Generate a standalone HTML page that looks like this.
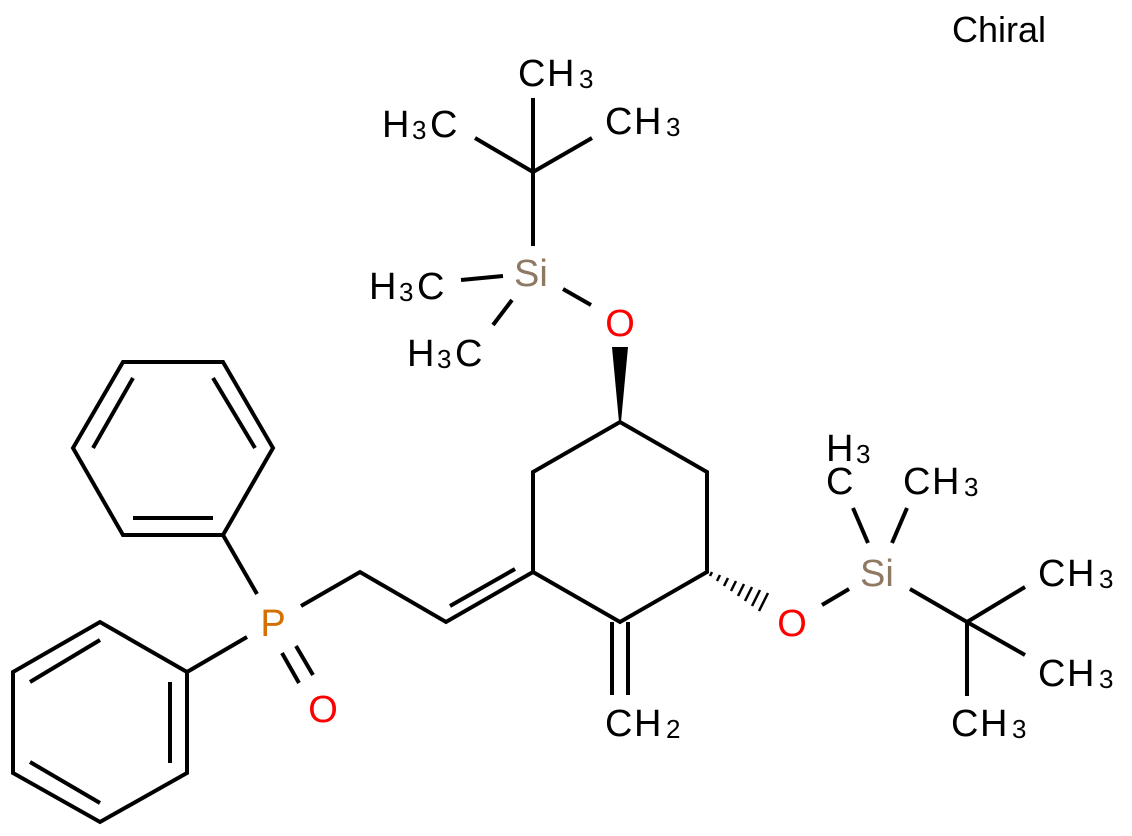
<!DOCTYPE html>
<html><head><meta charset="utf-8"><style>
html,body{margin:0;padding:0;background:#fff}
svg{display:block}
text{font-family:"Liberation Sans",sans-serif;font-size:38px;fill:#000}
.s{font-size:26px}
.ch{font-size:36px}
</style></head><body>
<svg width="1132" height="836" viewBox="0 0 1132 836" xmlns="http://www.w3.org/2000/svg">
<g stroke="#000" stroke-width="4" stroke-linecap="butt" fill="none">
<polygon points="123,362 223,362 273,448 223,535 123,535 73,448"/>
<line x1="133" y1="378" x2="93" y2="448"/>
<line x1="213" y1="378" x2="255" y2="448"/>
<line x1="133" y1="518" x2="213" y2="518"/>
<line x1="223" y1="535" x2="257" y2="594"/>
<polygon points="187,672 100,622 13,672 13,773 100,822 187,773"/>
<line x1="100" y1="640" x2="30" y2="682"/>
<line x1="170" y1="682" x2="170" y2="763"/>
<line x1="30" y1="762" x2="100" y2="803"/>
<line x1="247" y1="637" x2="187" y2="672"/>
<line x1="282" y1="653" x2="299" y2="683"/>
<line x1="296" y1="646" x2="313" y2="675"/>
<polyline points="301,606 360,572 446,622 533,572"/>
<line x1="450" y1="606" x2="515" y2="569"/>
<polyline points="533,572 533,472 620,422 707,472 707,572 620,622 533,572"/>
<line x1="612" y1="622" x2="612" y2="695"/>
<line x1="628" y1="622" x2="628" y2="695"/>
<line x1="533" y1="98" x2="533" y2="246"/>
<line x1="475" y1="138" x2="533" y2="172"/>
<line x1="592" y1="138" x2="533" y2="172"/>
<line x1="461" y1="280" x2="503" y2="276"/>
<line x1="512" y1="300" x2="493" y2="325"/>
<line x1="563" y1="289" x2="591" y2="305"/>
<line x1="822" y1="605" x2="849" y2="589"/>
<line x1="868" y1="543" x2="853" y2="508"/>
<line x1="892" y1="543" x2="907" y2="508"/>
<line x1="910" y1="589" x2="967" y2="622"/>
<line x1="967" y1="622" x2="1025" y2="587"/>
<line x1="967" y1="622" x2="1025" y2="655"/>
<line x1="967" y1="622" x2="967" y2="696"/>
</g>
<polygon points="612,347 628,347 621,422 619,422" fill="#000"/>
<g stroke="#000" stroke-width="2.5">
<line x1="712" y1="572" x2="710" y2="576"/>
<line x1="720" y1="575" x2="717" y2="581"/>
<line x1="728" y1="578" x2="724" y2="586"/>
<line x1="736" y1="581" x2="731" y2="591"/>
<line x1="744" y1="584" x2="738" y2="596"/>
<line x1="752" y1="587" x2="745" y2="601"/>
<line x1="760" y1="590" x2="752" y2="606"/>
<line x1="768" y1="593" x2="759" y2="611"/>
</g>
<text class="ch" x="952" y="42">Chiral</text>
<text x="518" y="86">C</text><text x="547" y="86">H</text><text class="s" x="579" y="88">3</text>
<text x="605" y="134">C</text><text x="634" y="134">H</text><text class="s" x="666" y="136">3</text>
<text x="382" y="137">H</text><text class="s" x="412" y="139">3</text><text x="430" y="137">C</text>
<text x="514" y="286" style="fill:#8E7A63">Si</text>
<text x="369" y="299">H</text><text class="s" x="399" y="301">3</text><text x="417" y="299">C</text>
<text x="407" y="366">H</text><text class="s" x="437" y="368">3</text><text x="455" y="366">C</text>
<text x="620" y="336" text-anchor="middle" style="fill:#FF0000">O</text>
<text x="273" y="636" text-anchor="middle" style="fill:#D46F00">P</text>
<text x="323" y="722" text-anchor="middle" style="fill:#FF0000">O</text>
<text x="605" y="736">C</text><text x="634" y="736">H</text><text class="s" x="666" y="738">2</text>
<text x="792" y="636" text-anchor="middle" style="fill:#FF0000">O</text>
<text x="860" y="586" style="fill:#8E7A63">Si</text>
<text x="826" y="461">H</text><text class="s" x="856" y="463">3</text>
<text x="826" y="494">C</text>
<text x="903" y="494">C</text><text x="932" y="494">H</text><text class="s" x="964" y="496">3</text>
<text x="1038" y="586">C</text><text x="1067" y="586">H</text><text class="s" x="1099" y="588">3</text>
<text x="1038" y="686">C</text><text x="1067" y="686">H</text><text class="s" x="1099" y="688">3</text>
<text x="951" y="736">C</text><text x="980" y="736">H</text><text class="s" x="1012" y="738">3</text>
</svg>
</body></html>
